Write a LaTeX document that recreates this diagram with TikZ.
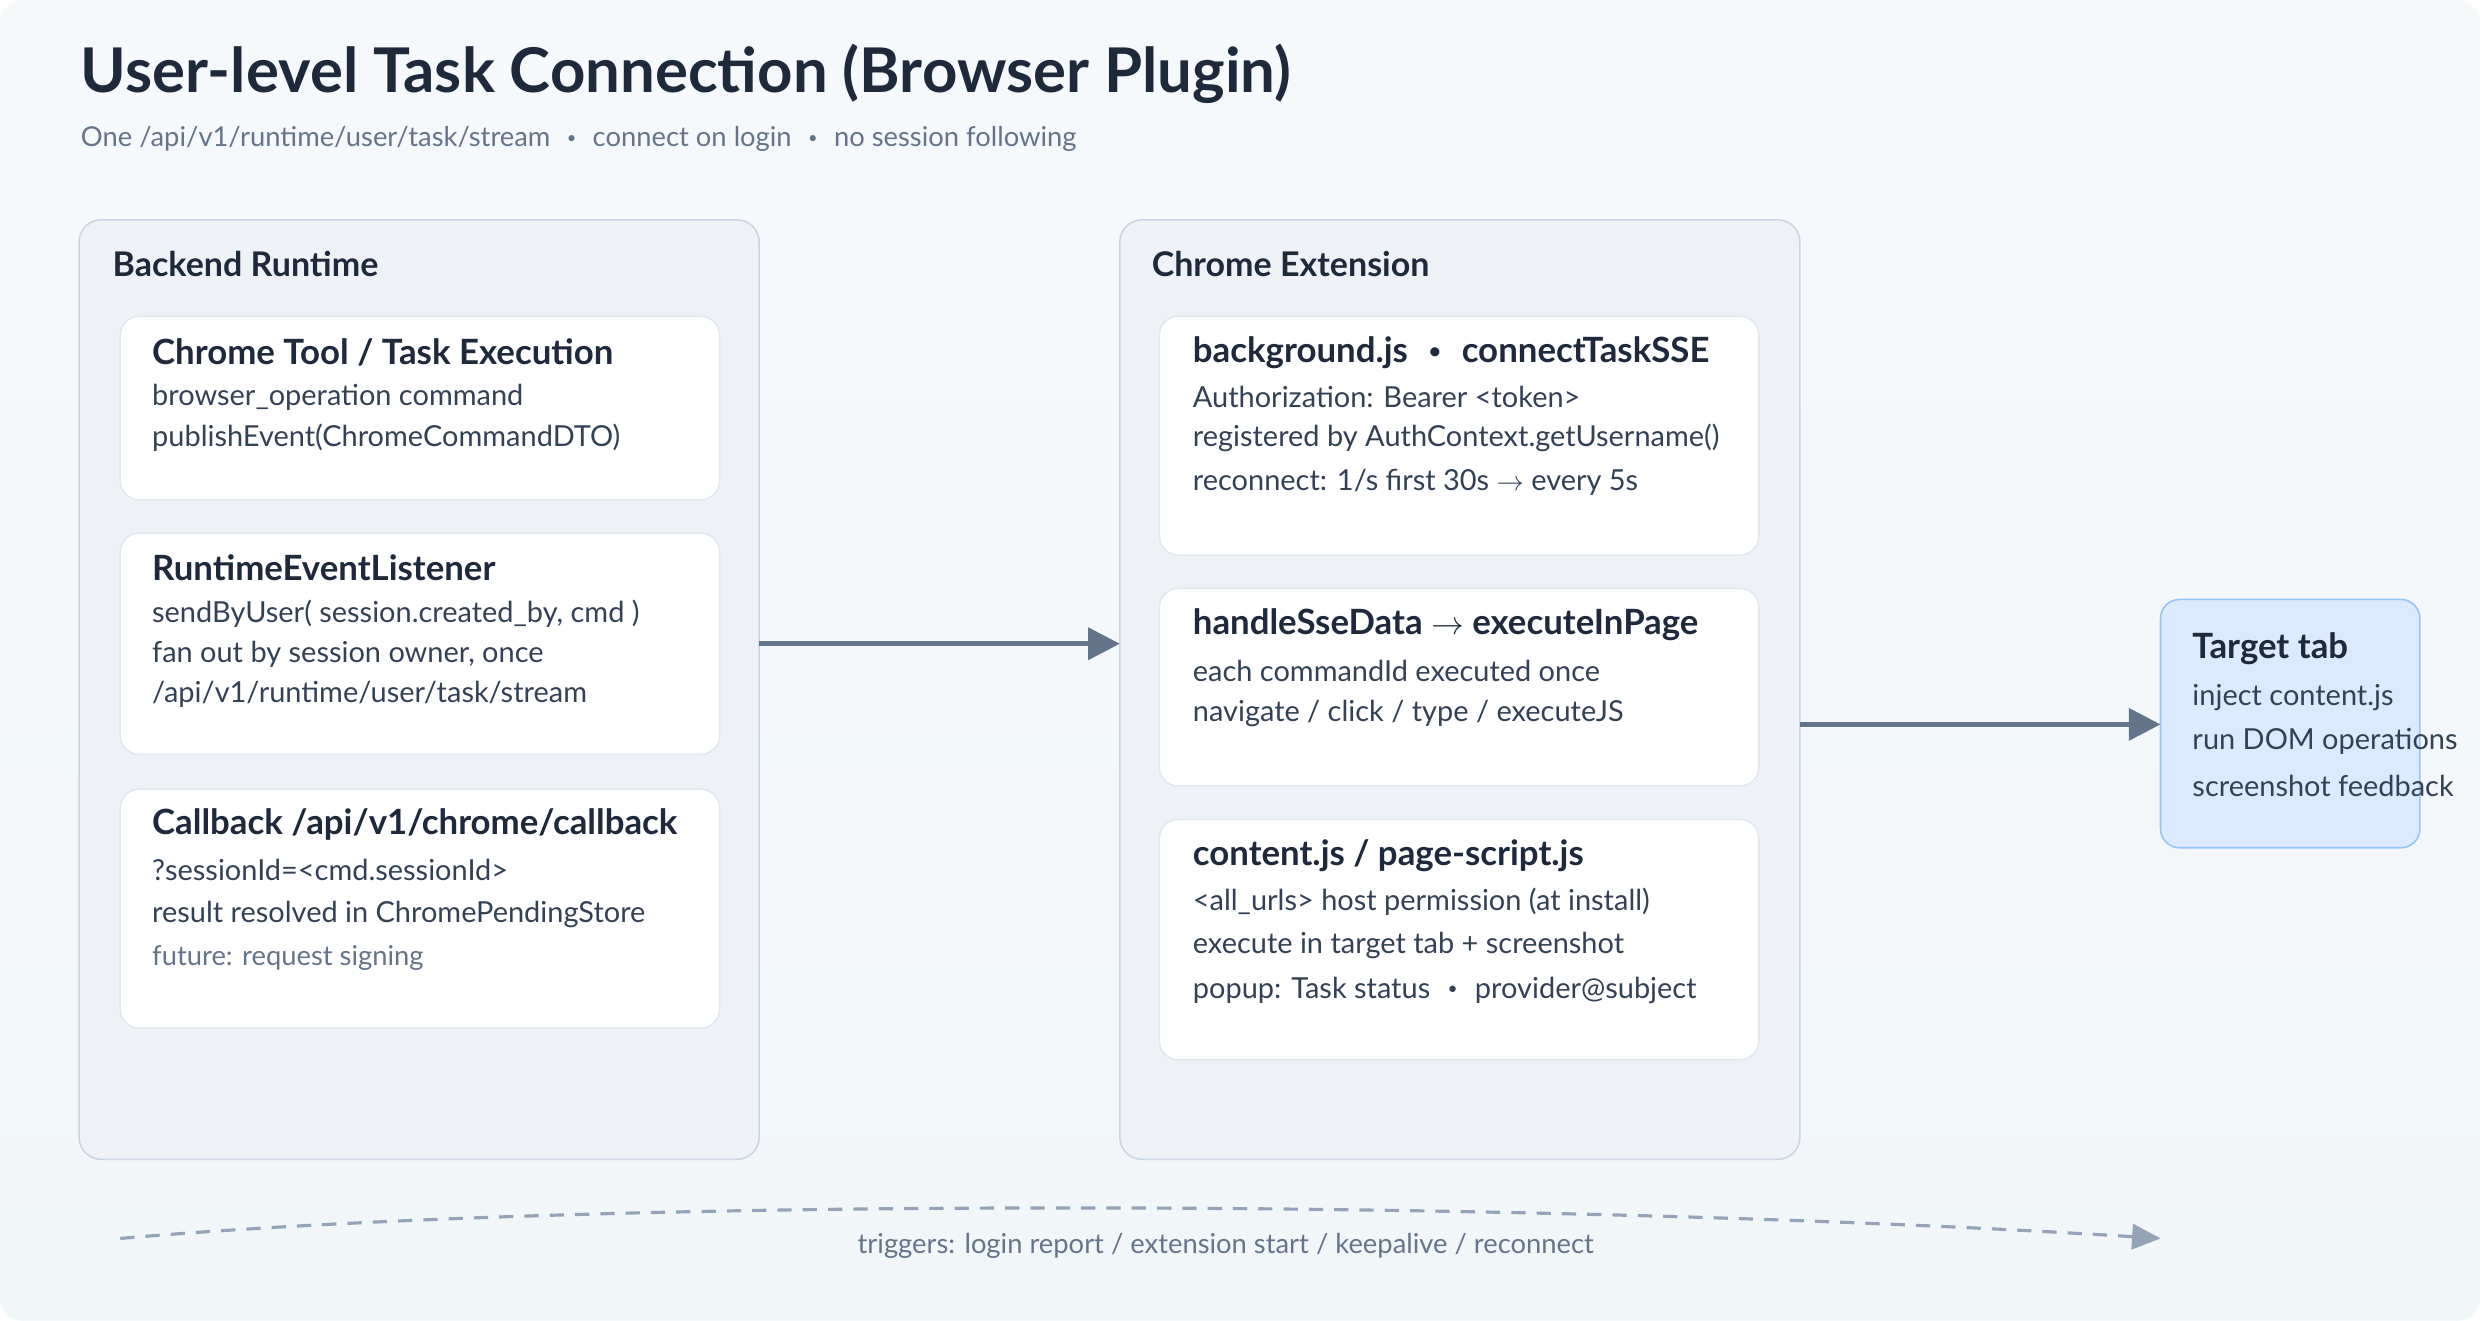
\documentclass[tikz,border=0pt]{standalone}
\usepackage{fontspec}
\setmainfont{Lato}
\usetikzlibrary{arrows.meta}
\definecolor{hd}{HTML}{1E293B}
\definecolor{bd}{HTML}{334155}
\definecolor{mu}{HTML}{64748B}
\definecolor{pn}{HTML}{EEF2F7}
\definecolor{pb}{HTML}{CBD5E1}
\definecolor{cb}{HTML}{E2E8F0}
\definecolor{ar}{HTML}{64748B}
\definecolor{ds}{HTML}{94A3B8}
\definecolor{tf}{HTML}{DBEAFE}
\definecolor{tb}{HTML}{93C5FD}
\definecolor{bg}{HTML}{F1F6F9}
\newcommand{\sbul}{\hspace{0.6em}\raisebox{0.25ex}{\scalebox{0.6}{\textbullet}}\hspace{0.6em}}
\tikzset{
 panel/.style={draw=pb,fill=pn,rounded corners=14pt,line width=1pt},
 card/.style={draw=cb,fill=white,rounded corners=12pt,line width=1pt},
 ptitle/.style={anchor=west,text=hd,font=\fontsize{21.5}{24}\selectfont\bfseries,inner sep=0},
 ctitle/.style={anchor=west,text=hd,font=\fontsize{22}{24}\selectfont\bfseries,inner sep=0},
 txt/.style={anchor=west,text=bd,font=\fontsize{18.3}{20}\selectfont,inner sep=0},
 mut/.style={anchor=west,text=mu,font=\fontsize{17.3}{20}\selectfont,inner sep=0},
 conn/.style={draw=ar,line width=3pt,-{Triangle[length=20pt,width=20pt]}}
}
\begin{document}
\begin{tikzpicture}[x=1pt,y=-1pt]
\useasboundingbox (0,0) rectangle (1568,835);
\shade[top color=bg!60!white,bottom color=bg,rounded corners=14pt] (0,0) rectangle (1568,835);
\node[anchor=west,text=hd,font=\fontsize{39}{42}\selectfont\bfseries,inner sep=0] (title) at (51,47) {User-level Task Connection (Browser Plugin)};
\node[anchor=west,text=mu,font=\fontsize{17.3}{20}\selectfont,inner sep=0] (sub) at (51,88) {One /api/v1/runtime/user/task/stream\sbul connect on login\sbul no session following};
% Backend
\draw[panel] (50,139) rectangle (480,733);
\node[ptitle] (bt) at (71,167) {Backend Runtime};
\draw[card] (76,200) rectangle (455,316);
\node[ctitle] (c1) at (96,223) {Chrome Tool / Task Execution};
\node[txt] at (96,251) {browser\_operation command};
\node[txt] at (96,277) {publishEvent(ChromeCommandDTO)};
\draw[card] (76,337) rectangle (455,477);
\node[ctitle] (c2) at (96,359) {RuntimeEventListener};
\node[txt] at (96,388) {sendByUser( session.created\_by, cmd )};
\node[txt] at (96,414) {fan out by session owner, once};
\node[txt] at (96,439) {/api/v1/runtime/user/task/stream};
\draw[card] (76,499) rectangle (455,650);
\node[ctitle] (c3) at (96,521) {Callback /api/v1/chrome/callback};
\node[txt] at (96,550) {?sessionId=<cmd.sessionId>};
\node[txt] at (96,578) {result resolved in ChromePendingStore};
\node[mut] at (96,606) {future: request signing};
% Chrome
\draw[panel] (708,139) rectangle (1138,733);
\node[ptitle] (ct) at (728,167) {Chrome Extension};
\draw[card] (733,200) rectangle (1112,351);
\node[ctitle] at (754,223) {background.js\sbul connectTaskSSE};
\node[txt] at (754,251) {Authorization: Bearer <token>};
\node[txt] at (754,277) {registered by AuthContext.getUsername()};
\node[txt] at (754,305) {reconnect: 1/s first 30s $\rightarrow$ every 5s};
\draw[card] (733,372) rectangle (1112,497);
\node[ctitle] at (754,395) {handleSseData $\rightarrow$ executeInPage};
\node[txt] at (754,424) {each commandId executed once};
\node[txt] at (754,451) {navigate / click / type / executeJS};
\draw[card] (733,518) rectangle (1112,670);
\node[ctitle] at (754,541) {content.js / page-script.js};
\node[txt] at (754,570) {<all\_urls> host permission (at install)};
\node[txt] at (754,598) {execute in target tab + screenshot};
\node[txt] at (754,626) {popup: Task status\sbul provider@subject};
% Target
\draw[draw=tb,fill=tf,rounded corners=12pt,line width=1pt] (1366,379) rectangle (1530,536);
\node[ctitle] at (1386,410) {Target tab};
\node[txt] at (1386,441) {inject content.js};
\node[txt] at (1386,469) {run DOM operations};
\node[txt] at (1386,497) {screenshot feedback};
% connectors
\coordinate (a1) at (480,407); \coordinate (a2) at (708,407);
\coordinate (b1) at (1138,458); \coordinate (b2) at (1366,458);
\draw[conn] (a1) -- (a2);
\draw[conn] (b1) -- (b2);
\coordinate (d1) at (76,783); \coordinate (d2) at (1366,783);
\draw[draw=ds,line width=2pt,dash pattern=on 9pt off 7pt,-{Triangle[length=18pt,width=16pt]}] (d1) .. controls (400,755) and (1000,760) .. (d2);
\node[anchor=center,text=mu,font=\fontsize{17.3}{20}\selectfont,inner sep=0] (trig) at (775,788) {triggers: login report / extension start / keepalive / reconnect};
\end{tikzpicture}
\end{document}
